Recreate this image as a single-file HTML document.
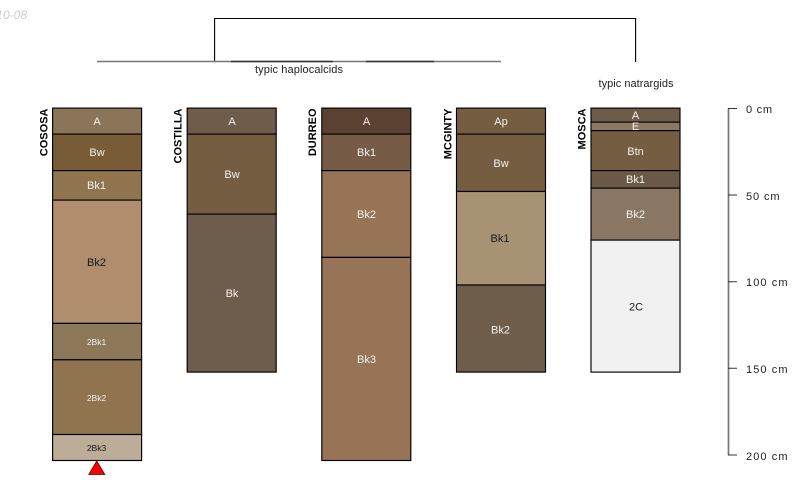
<!DOCTYPE html>
<html>
<head>
<meta charset="utf-8">
<style>
html,body{margin:0;padding:0;background:#fff;width:800px;height:500px;overflow:hidden}
svg{display:block}
text{font-family:"Liberation Sans",sans-serif;font-size:11px;text-anchor:middle}
.w{fill:#f4f2ee}
.k{fill:#1a1a1a}
.s{font-size:8.5px}
.n{font-size:11px;font-weight:bold;fill:#000;text-anchor:end}
.a{font-size:11px;fill:#222;text-anchor:start}
.h rect{stroke:#000;stroke-width:1.15}
</style>
</head>
<body>
<svg width="800" height="500" viewBox="0 0 800 500" xmlns="http://www.w3.org/2000/svg">
<text x="27" y="19" style="font-size:12px;font-style:italic;fill:#ccc;text-anchor:end">2010-08</text>

<!-- dendrogram -->
<path d="M214.600 61.500V18.500H635.600V62" fill="none" stroke="#000" stroke-width="1.100"/>
<path d="M97 61.500H501" fill="none" stroke="#777" stroke-width="1.500"/>
<path d="M231 61.500H333M366 61.500H434" fill="none" stroke="#333" stroke-width="1.500"/>
<text x="299" y="73" textLength="88" lengthAdjust="spacing" style="fill:#222">typic haplocalcids</text>
<text x="636" y="87" textLength="75" lengthAdjust="spacing" style="fill:#222">typic natrargids</text>

<!-- COSOSA -->
<g class="h">
<rect x="52.600" y="108.100" width="89" height="26" fill="#8b7558"/>
<rect x="52.600" y="134.100" width="89" height="36.500" fill="#785c35"/>
<rect x="52.600" y="170.600" width="89" height="29.500" fill="#8f744d"/>
<rect x="52.600" y="200.100" width="89" height="123.300" fill="#b08d6d"/>
<rect x="52.600" y="323.400" width="89" height="36.400" fill="#8d7859"/>
<rect x="52.600" y="359.800" width="89" height="74.700" fill="#8f744f"/>
<rect x="52.600" y="434.500" width="89" height="26" fill="#bcac98"/>
</g>
<text class="w" x="97" y="125">A</text>
<text class="w" x="97" y="156">Bw</text>
<text class="w" x="96.500" y="189">Bk1</text>
<text class="k" x="96.500" y="266">Bk2</text>
<text class="w s" x="96.500" y="345">2Bk1</text>
<text class="w s" x="96.500" y="401">2Bk2</text>
<text class="k s" x="96.500" y="451">2Bk3</text>
<polygon points="96.700,461 104.800,474.500 88.800,474.500" fill="#f00" stroke="#600" stroke-width="0.800"/>
<text class="n" transform="translate(47.500,108.500) rotate(-90)">COSOSA</text>

<!-- COSTILLA -->
<g class="h">
<rect x="187.200" y="108.100" width="89" height="26" fill="#6f5c4b"/>
<rect x="187.200" y="134.100" width="89" height="80" fill="#755d41"/>
<rect x="187.200" y="214.100" width="89" height="158" fill="#6e5d4c"/>
</g>
<text class="w" x="232" y="125">A</text>
<text class="w" x="232" y="178">Bw</text>
<text class="w" x="232" y="297">Bk</text>
<text class="n" transform="translate(181.500,108.500) rotate(-90)">COSTILLA</text>

<!-- DURREO -->
<g class="h">
<rect x="321.800" y="108.100" width="89" height="26" fill="#5a4131"/>
<rect x="321.800" y="134.100" width="89" height="36.500" fill="#765c47"/>
<rect x="321.800" y="170.600" width="89" height="86.800" fill="#977455"/>
<rect x="321.800" y="257.400" width="89" height="203.100" fill="#977455"/>
</g>
<text class="w" x="366.500" y="125">A</text>
<text class="w" x="366.500" y="156">Bk1</text>
<text class="w" x="366.500" y="218">Bk2</text>
<text class="w" x="366.500" y="363">Bk3</text>
<text class="n" transform="translate(316,108.500) rotate(-90)">DURREO</text>

<!-- MCGINTY -->
<g class="h">
<rect x="456.500" y="108.100" width="89" height="26" fill="#755d41"/>
<rect x="456.500" y="134.100" width="89" height="57.400" fill="#755d41"/>
<rect x="456.500" y="191.500" width="89" height="93.500" fill="#a89274"/>
<rect x="456.500" y="285" width="89" height="87.100" fill="#6e5d4b"/>
</g>
<text class="w" x="501" y="125">Ap</text>
<text class="w" x="501" y="167">Bw</text>
<text class="k" x="500" y="242">Bk1</text>
<text class="w" x="500.500" y="333.500">Bk2</text>
<text class="n" transform="translate(451.500,108.500) rotate(-90)">MCGINTY</text>

<!-- MOSCA -->
<g class="h">
<rect x="591" y="108.100" width="89" height="14" fill="#6e5c4b"/>
<rect x="591" y="122.100" width="89" height="8.500" fill="#8b7863"/>
<rect x="591" y="130.600" width="89" height="40" fill="#755d41"/>
<rect x="591" y="170.600" width="89" height="17.500" fill="#6a5947"/>
<rect x="591" y="188.100" width="89" height="52" fill="#897764"/>
<rect x="591" y="240.100" width="89" height="132" fill="#f1f1f1"/>
</g>
<text class="w" x="635.500" y="119">A</text>
<text class="w" x="635.500" y="130">E</text>
<text class="w" x="635.500" y="155">Btn</text>
<text class="w" x="635.500" y="183">Bk1</text>
<text class="w" x="635.500" y="218">Bk2</text>
<text class="k" x="636" y="310.500">2C</text>
<text class="n" transform="translate(585.500,108.500) rotate(-90)">MOSCA</text>

<!-- depth axis -->
<path d="M728.500 108.500V455" fill="none" stroke="#777" stroke-width="1.700"/>
<path d="M728 108.500H737M728 195H737M728 281.700H737M728 368.300H737M728 455H737" fill="none" stroke="#333" stroke-width="1"/>
<text class="a" x="746" y="113" textLength="26" lengthAdjust="spacing">0 cm</text>
<text class="a" x="746" y="200" textLength="33.500" lengthAdjust="spacing">50 cm</text>
<text class="a" x="746" y="286" textLength="41.500" lengthAdjust="spacing">100 cm</text>
<text class="a" x="746" y="373" textLength="41.500" lengthAdjust="spacing">150 cm</text>
<text class="a" x="746" y="460" textLength="41.500" lengthAdjust="spacing">200 cm</text>
</svg>
</body>
</html>
